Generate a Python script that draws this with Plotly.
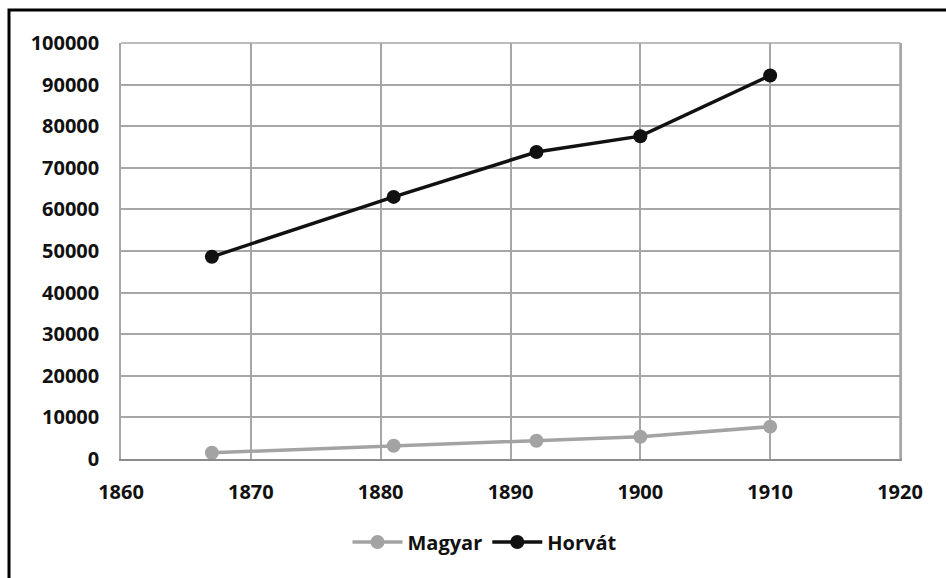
import plotly.graph_objects as go

years = [1867, 1881, 1892, 1900, 1910]
magyar = [1500, 3200, 4400, 5350, 7780]
horvat = [48600, 63000, 73800, 77600, 92200]
x_ticks = [1860, 1870, 1880, 1890, 1900, 1910, 1920]
y_ticks = [0, 10000, 20000, 30000, 40000, 50000, 60000, 70000, 80000, 90000, 100000]

FONT = dict(family="Open Sans, Lato, sans-serif", size=20, color="#111111", weight="bold")
GRID = "#a6a6a6"

fig = go.Figure()
fig.add_trace(go.Scatter(
    x=years, y=magyar, name="Magyar", mode="lines+markers",
    line=dict(color="#a3a3a3", width=3.5),
    marker=dict(color="#a3a3a3", size=14),
))
fig.add_trace(go.Scatter(
    x=years, y=horvat, name="Horvát", mode="lines+markers",
    line=dict(color="#111111", width=3.5),
    marker=dict(color="#111111", size=14),
))

W, H = 946, 578
L, R, T, B = 121, 900, 43, 459
pw, ph = R - L, B - T

def px_x(p):
    return (p - L) / pw

def px_y(p):
    return (B - p) / ph

fig.update_layout(
    width=W, height=H,
    margin=dict(l=L, r=W - R, t=T, b=H - B, autoexpand=False),
    paper_bgcolor="white", plot_bgcolor="white",
    font=FONT,
    showlegend=True,
    legend=dict(orientation="h", x=px_x(485), xanchor="center", y=px_y(542), yanchor="middle",
                font=FONT, itemwidth=50, traceorder="normal", bgcolor="rgba(0,0,0,0)"),
    xaxis=dict(range=[1860, 1920], tickvals=x_ticks, ticktext=[str(v) for v in x_ticks],
               showgrid=True, gridcolor=GRID, gridwidth=1.5,
               showline=True, linecolor="#8c8c8c", linewidth=2, mirror=False,
               zeroline=False, ticks="", ticklabelstandoff=14, tickfont=FONT, automargin=False),
    yaxis=dict(range=[0, 100000], tickvals=y_ticks, ticktext=[str(v) for v in y_ticks],
               showgrid=True, gridcolor=GRID, gridwidth=1.5,
               showline=True, linecolor=GRID, linewidth=1.5, mirror=True,
               zeroline=False, ticks="", ticklabelstandoff=16, tickfont=FONT, automargin=False),
    shapes=[
        dict(type="line", xref="paper", yref="paper", x0=1, x1=1, y0=0, y1=1,
             line=dict(color=GRID, width=1.5)),
        dict(type="line", xref="paper", yref="paper", x0=0, x1=1, y0=1, y1=1,
             line=dict(color=GRID, width=1.5)),
        dict(type="rect", xref="paper", yref="paper",
             x0=px_x(9), x1=px_x(960), y0=px_y(600), y1=px_y(10),
             line=dict(color="black", width=3), layer="above"),
    ],
)

fig.write_html("out.html", config={"displayModeBar": False},
               post_script="document.body.style.margin='0';document.body.style.overflow='hidden';")
